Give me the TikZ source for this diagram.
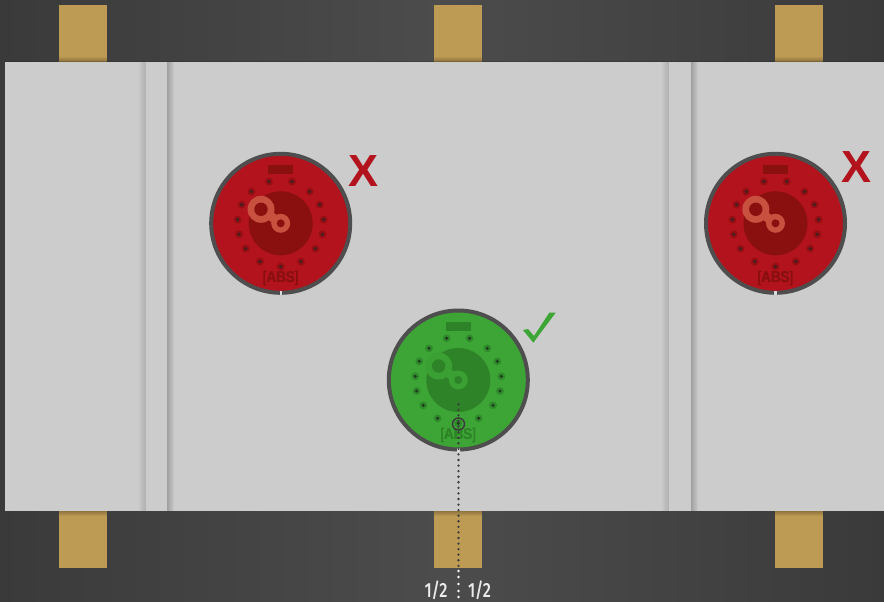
\documentclass[tikz,border=0pt]{standalone}
\usepackage{fontspec}
\setmainfont{Liberation Sans}
\newfontfamily\labelfont{Fira Sans Medium}
\definecolor{tan}{HTML}{BE9B55}
\definecolor{plate}{HTML}{CCCCCC}
\definecolor{ring}{HTML}{4E4E4E}
\definecolor{redA}{HTML}{B2131D}
\definecolor{redB}{HTML}{8A0F0F}
\definecolor{redC}{HTML}{C8503F}
\definecolor{redD}{HTML}{930F14}
\definecolor{redE}{HTML}{3A2222}
\definecolor{greenA}{HTML}{3DA535}
\definecolor{greenB}{HTML}{2E8227}
\definecolor{greenC}{HTML}{3AA033}
\definecolor{greenD}{HTML}{2F8A2B}
\definecolor{greenE}{HTML}{1F3A1F}
\definecolor{dots}{HTML}{3C3C3C}
\definecolor{groundedge}{HTML}{3A3A3A}
\definecolor{groundmid}{HTML}{4C4C4C}
\tikzset{
  tanstrip/.style={fill=tan,draw=none},
  mark label/.style={font=\bfseries\fontsize{45}{45}\selectfont,text=redA,inner sep=0pt},
  half label/.style={font=\labelfont\fontsize{20.5}{20.5}\selectfont,text=white!92!black,inner sep=0pt,xscale=0.78},
  abs label/.style={inner sep=0pt,xscale=0.86,font=\fontsize{15.5}{15.5}\selectfont},
}
% #1 x, #2 y, #3 face, #4 centre, #5 key, #6 halo, #7 hole
\newcommand{\wheel}[7]{%
\begin{scope}[shift={(#1,#2)}]
  \fill[#3] (0,0) circle[radius=69.5];
  \draw[ring,line width=4pt] (0,0) circle[radius=69.5];
  \fill[plate!70!white] (-1.2,68) rectangle (1.2,72);
  \fill[#4] (0,0) circle[radius=32];
  \fill[#4] (-12.7,-58.3) rectangle (12.3,-49.3);
  \draw[#5,line width=9pt] (-19.7,-14) -- (0,0);
  \fill[#5] (-19.7,-14) circle[radius=13.5];
  \fill[#5] (0,0) circle[radius=9.5];
  \fill[#4] (-19.7,-14) circle[radius=6.7];
  \fill[#4] (0,0) circle[radius=4];
  \foreach \hx/\hy in {-11.7/-41.7,11.3/-41.7,-29.3/-31.7,29/-31.7,-39/-18.7,39/-18.7,-43/-3.7,43/-3.7,-41.7/11,41.7/11,-35/25.3,34.7/25.3,-20.7/38.3,20.3/38.3,0/43.3}{
    \fill[#6] (\hx,\hy) circle[radius=3.9];
    \fill[#7] (\hx,\hy) circle[radius=1.7];
  }
  \node[abs label,text=#4] at (-0.25,55.6) {[\textbf{ABS}]};
  \node[abs label,text=#4] at (0.25,55.6) {[\textbf{ABS}]};
\end{scope}}
\begin{document}
\begin{tikzpicture}[x=1pt,y=-1pt]
\useasboundingbox (0,0) rectangle (884,602);
% dark ground
\shade[left color=groundedge,right color=groundedge,middle color=groundmid,draw=none] (0,0) rectangle (884,602);
% tan strips
\foreach \sx in {59,434,775}{
  \fill[tanstrip] (\sx,5) rectangle (\sx+48,62);
  \fill[tanstrip] (\sx,511) rectangle (\sx+48,568);
  \foreach \k in {1,...,5}{
    \fill[black,opacity=0.05] (\sx,62-\k) rectangle (\sx+48,62);
    \fill[black,opacity=0.05] (\sx,511) rectangle (\sx+48,511+\k);
  }
}
% plate
\fill[plate] (5,62) rectangle (884,511);
\fill[black,opacity=0.15] (5,61.5) rectangle (884,62.5);
% folds
\foreach \fa/\fb in {146/167,669/691}{
  \foreach \k in {1,...,7}{
    \fill[black,opacity=0.014] (\fa-\k,62) rectangle (\fa,511);
    \fill[black,opacity=0.032] (\fb,62) rectangle (\fb+\k,511);
  }
}
% wheels
\wheel{280.7}{223.3}{redA}{redB}{redC}{redD}{redE}
\wheel{775.5}{223.3}{redA}{redB}{redC}{redD}{redE}
\wheel{458.3}{380}{greenA}{greenB}{greenC}{greenD}{greenE}
% marks
\node[mark label] (crossa) at (363.5,171) {X};
\node[mark label] (crossb) at (856,167) {X};
\fill[greenA] (523,330) -- (528,329) -- (534,336) -- (549.3,312.7) -- (555.7,312.7) -- (533.3,342.7) -- cycle;
% centre line
\foreach \k in {0,...,29}{
  \fill[dots] (458.5,404.3+5.57*\k) circle[radius=1.3];
}
\foreach \dy in {571,577,584,591,597}{
  \fill[white] (458.5,\dy) circle[radius=1.4];
}
\draw[dots,line width=1.5pt] (458.5,424) circle[radius=6];
\node[half label] (lh) at (436,590) {1/2};
\node[half label] (rh) at (479.5,590) {1/2};
\end{tikzpicture}
\end{document}
